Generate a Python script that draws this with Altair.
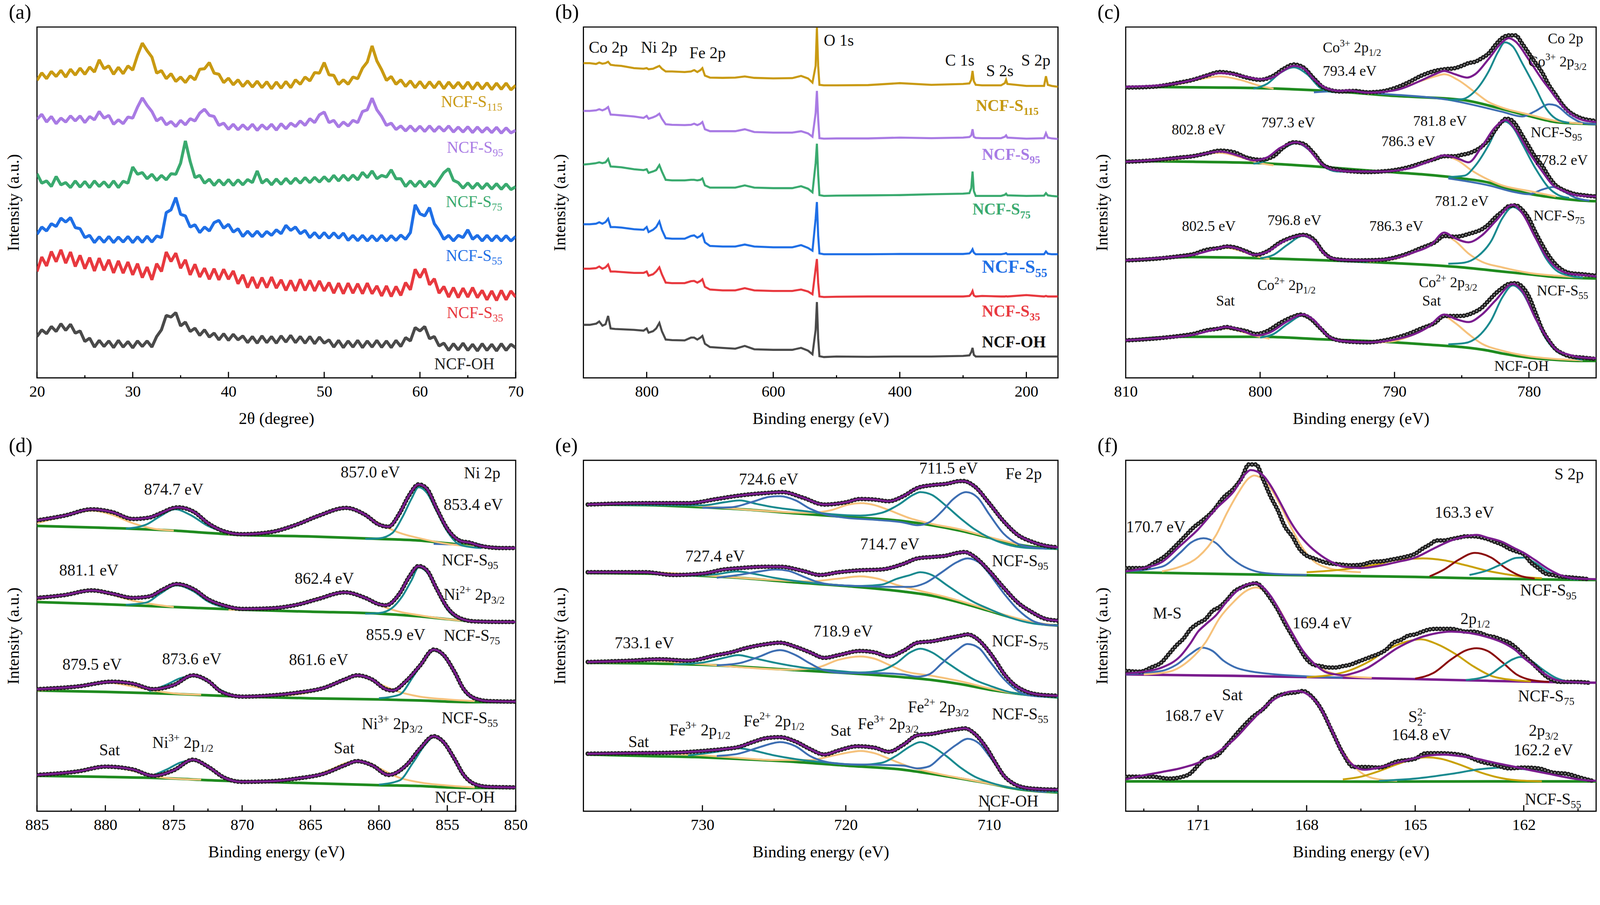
import re
import altair as alt
import pandas as pd

FONT = "Liberation Serif"

# ============================ DATA ============================
# ---- (a) XRD patterns: 2theta (degree) / intensity (a.u.) ----
xrd_2theta = [20,20.5,21,21.5,22,22.5,23,23.5,24,24.5,25,25.5,26,26.5,27,27.5,28,28.5,29,29.5,
              30,30.5,31,31.5,32,32.5,33,33.5,34,34.5,35,35.5,36,36.5,37,37.5,38,38.5,39,39.5,
              40,40.5,41,41.5,42,42.5,43,43.5,44,44.5,45,45.5,46,46.5,47,47.5,48,48.5,49,49.5,
              50,50.5,51,51.5,52,52.5,53,53.5,54,54.5,55,55.5,56,56.5,57,57.5,58,58.5,59,59.5,
              60,60.5,61,61.5,62,62.5,63,63.5,64,64.5,65,65.5,66,66.5,67,67.5,68,68.5,69,69.5,70]
xrd_s115 = [1098,1125,1104,1130,1112,1134,1110,1138,1117,1142,1120,1146,1128,1172,1140,1150,1120,1145,1122,1150,
            1135,1188,1232,1205,1182,1124,1133,1104,1122,1094,1110,1090,1114,1100,1138,1140,1162,1124,1120,1090,
            1106,1082,1100,1076,1096,1074,1095,1072,1093,1068,1092,1070,1094,1072,1100,1084,1110,1096,1126,1124,
            1162,1118,1116,1083,1100,1084,1110,1104,1142,1164,1222,1168,1136,1098,1112,1084,1100,1076,1096,1072,
            1094,1070,1093,1071,1094,1068,1092,1070,1091,1068,1092,1066,1090,1067,1089,1065,1088,1066,1088,1064,1080]
xrd_s95 = [958,976,948,968,942,962,948,970,952,970,946,968,956,986,962,972,940,956,942,966,
           962,1002,1035,1008,986,952,964,938,950,932,954,938,960,952,980,994,972,968,936,944,
           922,940,920,938,921,940,918,938,922,940,919,942,924,944,932,952,936,960,946,974,
           984,946,954,930,948,934,954,946,986,992,1034,992,968,936,944,921,934,916,934,915,
           933,914,934,914,932,915,934,912,930,912,931,910,930,911,928,910,929,908,927,909,918]
xrd_s75 = [762,728,736,716,752,722,730,712,736,714,734,712,736,716,733,713,736,712,735,728,
           786,760,766,744,760,738,756,740,762,760,800,880,806,748,756,728,742,720,740,721,
           741,720,740,722,741,730,772,728,742,722,743,724,745,726,746,728,748,730,749,732,
           751,734,756,736,757,738,757,740,767,748,772,744,756,750,776,744,744,716,736,716,
           736,714,735,716,740,766,780,738,730,710,729,709,728,708,727,707,726,706,725,705,715]
xrd_s55 = [544,570,556,582,572,602,588,604,568,564,532,540,514,535,515,536,514,534,516,536,
           514,535,515,537,516,538,532,622,632,676,616,610,570,578,550,570,556,586,594,566,
           580,552,564,536,555,536,555,535,554,540,560,546,576,558,570,546,558,532,550,530,
           550,530,549,530,548,522,540,521,540,520,539,520,540,520,539,522,541,526,550,650,
           618,610,640,582,558,526,540,520,540,532,560,526,540,520,540,520,539,520,539,520,536]
xrd_s35 = [410,462,430,482,445,488,440,480,428,468,420,460,412,458,414,452,405,448,404,444,
           398,438,388,426,380,438,410,480,446,476,422,452,398,436,390,422,382,420,380,418,
           382,412,366,398,352,390,350,388,352,390,350,380,342,378,340,382,342,378,340,376,
           340,370,332,368,330,368,332,366,330,368,330,358,322,358,320,356,324,370,344,418,
           388,420,362,384,332,356,318,352,316,350,318,352,316,342,308,340,306,342,308,340,318]
xrd_oh = [176,200,186,212,194,222,198,220,188,196,158,170,138,162,140,160,136,162,138,158,
          135,160,140,160,138,176,200,252,246,262,214,228,194,206,180,200,174,188,164,186,
          162,184,164,178,154,176,152,178,154,176,152,178,156,180,154,176,152,176,150,174,
          152,164,138,162,136,160,138,162,136,160,138,162,137,160,136,162,140,172,160,208,
          196,212,168,176,142,152,126,150,128,152,126,148,124,150,126,148,124,150,126,148,135]
a_lab_x = [62.2, 62.8, 62.7, 62.7, 62.8, 61.5]
a_lab_y = [1020, 855, 660, 465, 260, 75]
a_lab_t = ["NCF-S_{115}", "NCF-S_{95}", "NCF-S_{75}", "NCF-S_{55}", "NCF-S_{35}", "NCF-OH"]

# ---- (b) XPS survey: binding energy (eV) / intensity ----
survey_be = [900,890,880,875,870,865,861,857,850,840,820,805,800,797,790,785,780,776,770,760,
             740,730,725,720,715,712,708,700,680,660,645,630,600,570,556,545,538,533,531,529,
             527,520,500,450,400,350,300,290,287,285,283,280,270,240,234,232,230,200,172,169,
             166,160,150]
survey_s115 = [1160,1160,1157,1162,1158,1160,1165,1154,1152,1150,1142,1140,1142,1138,1140,1145,1150,1140,1130,1130,
               1128,1130,1135,1128,1135,1142,1115,1108,1107,1108,1112,1107,1105,1106,1114,1105,1090,1150,1288,1150,
               1082,1080,1080,1081,1088,1082,1085,1087,1100,1132,1095,1082,1080,1080,1088,1100,1085,1078,1078,1113,
               1082,1078,1075]
survey_s95 = [988,988,990,994,990,995,1002,975,974,972,968,963,970,960,965,970,978,960,940,938,
              937,938,942,937,942,948,922,915,915,915,922,912,910,910,915,907,895,980,1060,960,
              890,888,889,889,892,890,892,894,900,922,895,891,890,890,895,900,892,888,890,908,
              892,889,887]
survey_s75 = [795,797,800,803,800,803,815,788,787,785,778,775,778,765,770,775,793,770,740,738,
              738,740,740,738,740,745,720,712,712,712,720,712,710,710,717,708,695,800,870,760,
              685,682,683,684,685,688,690,692,710,770,700,682,682,682,686,690,684,682,683,692,
              684,682,680]
survey_s55 = [580,580,582,587,582,588,600,570,570,568,562,560,570,552,560,570,590,560,530,528,
              528,538,540,532,538,545,515,502,500,500,507,500,497,497,505,495,485,600,660,540,
              475,472,472,472,473,473,473,475,482,490,478,472,472,472,474,476,472,472,472,482,
              474,472,472]
survey_s35 = [420,420,422,428,420,425,435,410,410,408,405,405,410,395,400,410,425,400,370,368,
              368,375,376,370,376,382,355,345,342,342,350,342,340,340,345,338,328,420,455,370,
              320,318,319,320,320,320,320,322,330,340,324,320,322,320,320,321,320,325,320,322,
              320,320,320]
survey_oh = [218,218,222,230,215,220,250,205,203,202,200,197,205,190,195,205,225,195,165,163,
             162,172,172,165,172,178,150,138,135,132,142,130,128,128,135,125,112,200,300,170,
             105,102,104,103,104,104,106,108,120,135,110,104,104,104,104,104,104,104,104,104,
             104,104,104]
b_ann_x = [891.6, 809.2, 732.6, 520.2, 328.3, 263.6, 208.1]
b_ann_y = [1215, 1215, 1195, 1240, 1168, 1130, 1168]
b_ann_t = ["Co 2p", "Ni 2p", "Fe 2p", "O 1s", "C 1s", "S 2s", "S 2p"]
b_lab_x = [279.8, 270.1, 285.2, 270.1, 270.1, 270.1]
b_lab_y = [1005, 830, 632, 425, 265, 155]
b_lab_t = ["NCF-S_{115}", "NCF-S_{95}", "NCF-S_{75}", "NCF-S_{55}", "NCF-S_{35}", "NCF-OH"]

# ---- (c) Co 2p ----
co95_bg_be = [810, 805, 800, 795, 790, 785, 782, 780, 778, 776, 775]
co95_bg_i = [1075, 1073, 1070, 1060, 1042, 1028, 995, 970, 948, 942, 940]
co95_env_be = [810, 807, 805, 804, 803, 802, 801, 800, 799, 798.3, 797.5, 796.8, 796, 795, 794, 793.5, 792, 790, 788, 787,
               786.3, 785.5, 784.6, 784, 783, 782, 781.5, 781, 780, 779, 778.3, 778, 777, 776, 775]
co95_env_i = [1075, 1082, 1100, 1115, 1124, 1120, 1110, 1102, 1110, 1132, 1150, 1142, 1102, 1068, 1060, 1062, 1054, 1062, 1098, 1120,
              1132, 1120, 1108, 1120, 1175, 1235, 1250, 1238, 1172, 1100, 1055, 1035, 982, 955, 948]
co95_dat_be = [810, 808, 806, 805, 804, 803, 802, 801, 800, 799, 798.3, 797.5, 796.8, 796, 795.2, 794, 793, 792, 791, 790,
               789, 788, 787, 786.3, 785.5, 785, 784.5, 784, 783.5, 783, 782.5, 782, 781.5, 781, 780.5, 780, 779.5, 779, 778.5, 778,
               777.5, 777, 776.5, 776, 775.5, 775]
co95_dat_i = [1072, 1075, 1090, 1100, 1115, 1128, 1122, 1108, 1100, 1115, 1138, 1155, 1145, 1105, 1070, 1058, 1060, 1055, 1058, 1070,
              1090, 1115, 1132, 1138, 1142, 1150, 1160, 1165, 1178, 1195, 1225, 1250, 1260, 1260, 1230, 1195, 1160, 1125, 1080, 1045,
              1010, 985, 970, 960, 955, 952]
co95_sat1_be = [809, 808, 806, 804.5, 803, 801.5, 800, 799]
co95_sat1_i = [1075, 1076, 1085, 1102, 1112, 1100, 1078, 1068]
co95_p12_be = [800.5, 799.5, 798.5, 797.5, 796.5, 795.5, 794.5]
co95_p12_i = [1068, 1085, 1125, 1145, 1120, 1070, 1055]
co95_sat2_be = [792, 790, 788.5, 787, 786.3, 785.3, 784, 783, 782, 780, 778, 776]
co95_sat2_i = [1050, 1065, 1088, 1112, 1120, 1100, 1055, 1020, 1000, 975, 952, 942]
co95_p32_be = [786, 785, 784, 783, 782.3, 781.8, 781.2, 780.5, 779.5, 778.7, 778, 777]
co95_p32_i = [1028, 1030, 1060, 1130, 1200, 1235, 1220, 1160, 1070, 995, 960, 945]
co95_m_be = [796, 793.7, 791, 786, 782, 780.5, 779.5, 778.5, 778, 777, 776, 775]
co95_m_i = [1055, 1060, 1050, 1028, 985, 968, 988, 1012, 1008, 970, 945, 940]

co75_bg_be = [810, 805, 800, 795, 791, 788, 785, 783, 782, 780, 778, 776, 775]
co75_bg_i = [808, 805, 800, 785, 770, 760, 745, 730, 715, 690, 675, 665, 663]
co75_env_be = [810, 807, 805, 803, 801.5, 800.5, 799.5, 798.5, 797.3, 796.5, 795.5, 794.5, 793, 791, 789, 787.5, 786.3, 785.2, 784.5, 783.5,
               782.5, 781.7, 781, 780, 779, 778.2, 777.5, 776.5, 775]
co75_env_i = [805, 815, 825, 842, 825, 810, 820, 855, 875, 855, 800, 775, 770, 770, 780, 805, 828, 815, 803, 860,
              930, 955, 920, 840, 770, 720, 702, 685, 680]
co75_dat_be = [810, 808, 806, 805, 804, 803, 802, 801, 800, 799, 798.3, 797.5, 796.8, 796, 795.2, 794, 793, 792, 791, 790,
               789, 788, 787, 786.3, 785.5, 785, 784.5, 784, 783.5, 783, 782.5, 782, 781.7, 781.3, 781, 780.5, 780, 779.5, 779, 778.5,
               778, 777.5, 777, 776.5, 776, 775.5, 775]
co75_dat_i = [805, 810, 820, 825, 835, 845, 840, 820, 812, 825, 855, 875, 870, 835, 790, 775, 770, 768, 770, 775,
              785, 800, 815, 825, 825, 830, 835, 845, 860, 885, 920, 950, 960, 955, 940, 900, 860, 820, 790, 750,
              720, 705, 695, 688, 685, 682, 680]
co75_sat1_be = [808, 806, 804.5, 803, 801.5, 800, 799]
co75_sat1_i = [808, 815, 830, 837, 822, 800, 792]
co75_p12_be = [800.5, 799.5, 798.5, 797.3, 796.3, 795.3, 794.3, 792]
co75_p12_i = [798, 810, 845, 872, 845, 790, 770, 768]
co75_sat2_be = [792, 790, 788.5, 787.3, 786.3, 785.3, 784.3, 783, 782, 780, 778]
co75_sat2_i = [770, 775, 790, 815, 825, 810, 775, 740, 720, 700, 680]
co75_p32_be = [786, 784.8, 784, 783, 782.3, 781.8, 781.2, 780.5, 779.5, 778.5, 777.8, 777]
co75_p32_i = [750, 755, 790, 865, 930, 950, 930, 870, 780, 710, 685, 675]
co75_m_be = [786, 783, 781, 780, 779, 778.2, 777.5, 776.5, 775.5]
co75_m_i = [745, 720, 695, 688, 705, 714, 700, 675, 665]

co55_bg_be = [810, 805, 800, 795, 790, 785, 782, 780, 778, 775]
co55_bg_i = [450, 462, 458, 450, 440, 425, 410, 400, 390, 385]
co55_env_be = [810, 807, 805, 803, 802.5, 801.5, 800.5, 799.5, 798.2, 796.8, 796, 795, 794, 792, 790, 788.5, 787.3, 786.3, 785.5, 784.5,
               783.5, 782.5, 781.2, 780.5, 779.5, 778.8, 778, 777, 775.5, 775]
co55_env_i = [450, 460, 470, 495, 500, 490, 470, 480, 520, 540, 520, 465, 452, 450, 458, 480, 505, 550, 530, 515,
              540, 590, 650, 620, 530, 470, 425, 402, 395, 392]
co55_dat_be = [810, 808, 806, 805, 804, 803, 802.5, 802, 801, 800.3, 799.5, 798.5, 797.5, 796.8, 796, 795.3, 794.5, 793, 791, 790,
               789, 788, 787, 786.3, 785.5, 785, 784.5, 784, 783.5, 783, 782.5, 782, 781.5, 781, 780.5, 780, 779.5, 779, 778.5, 778,
               777.5, 777, 776, 775]
co55_dat_i = [450, 455, 465, 472, 488, 495, 500, 498, 482, 470, 482, 515, 535, 542, 525, 480, 455, 450, 452, 460,
              475, 495, 515, 538, 535, 538, 545, 552, 562, 580, 605, 625, 645, 648, 632, 600, 550, 505, 465, 435,
              415, 405, 400, 395]
co55_sat1_be = [808, 806, 804, 802.5, 801.5, 800.3, 799.3]
co55_sat1_i = [452, 465, 485, 495, 485, 465, 455]
co55_p12_be = [800, 799, 798, 796.8, 796, 795, 794, 792]
co55_p12_i = [458, 470, 505, 538, 520, 470, 448, 445]
co55_sat2_be = [792, 790, 788.5, 787.3, 786.3, 785.5, 784.5, 783.5, 782, 780, 778, 776]
co55_sat2_i = [445, 455, 480, 510, 540, 520, 475, 445, 425, 405, 395, 388]
co55_p32_be = [786, 784.8, 783.8, 782.8, 782, 781.2, 780.5, 779.5, 778.7, 778, 777, 776]
co55_p32_i = [438, 442, 465, 520, 600, 642, 620, 530, 455, 415, 395, 388]

cooh_bg_be = [810, 806, 800, 795, 792, 790, 787, 785, 783, 782, 780, 778, 776, 775]
cooh_bg_i = [162, 175, 175, 165, 160, 155, 145, 138, 125, 115, 100, 92, 88, 88]
cooh_env_be = [810, 807, 805, 803.5, 802.5, 801.5, 800.3, 799.3, 798, 796.8, 796, 795, 794, 792, 790, 788.5, 787.5, 786.3, 785.5, 784.5,
               783.5, 782.5, 781.2, 780.5, 779.5, 778.7, 778, 777, 776, 775]
cooh_env_i = [162, 172, 182, 200, 210, 200, 180, 190, 230, 255, 235, 180, 160, 155, 165, 185, 210, 255, 240, 228,
              255, 305, 365, 340, 240, 175, 130, 110, 100, 98]
cooh_dat_be = [810, 808, 806, 805, 804, 803, 802.5, 802, 801, 800.3, 799.5, 798.5, 797.5, 797, 796.3, 795.5, 794.7, 793.5, 792, 791,
               790, 789, 788, 787, 786.3, 785.5, 785, 784.5, 784, 783.5, 783, 782.5, 782, 781.5, 781, 780.5, 780, 779.5, 779, 778.5,
               778, 777.5, 777, 776, 775]
cooh_dat_i = [162, 168, 178, 185, 198, 205, 210, 205, 195, 185, 195, 225, 248, 255, 242, 205, 170, 158, 155, 160,
              170, 185, 205, 225, 250, 250, 250, 255, 265, 280, 305, 330, 350, 365, 368, 355, 320, 260, 200, 160,
              130, 115, 105, 100, 95]
cooh_sat1_be = [808, 806, 804, 802.5, 801.5, 800.3, 799.3]
cooh_sat1_i = [168, 178, 195, 205, 195, 178, 168]
cooh_p12_be = [800, 799, 798, 796.8, 796, 795, 794, 792]
cooh_p12_i = [172, 185, 220, 252, 232, 178, 158, 152]
cooh_sat2_be = [792, 790, 788.5, 787.3, 786.3, 785.5, 784.5, 783.5, 782, 780, 778, 776]
cooh_sat2_i = [152, 160, 185, 215, 248, 225, 185, 150, 125, 105, 95, 90]
cooh_p32_be = [786, 784.8, 783.8, 782.8, 782, 781.2, 780.5, 779.5, 778.7, 778, 777, 776]
cooh_p32_i = [148, 152, 175, 235, 315, 360, 335, 240, 165, 125, 102, 92]

c_lab_x = [778.6, 795.34, 795.34, 780.05, 779.87, 806.58, 799.91, 788.62, 790.98, 779.62,
           787.0, 779.67, 805.82, 799.45, 791.87, 800.21, 788.19, 803.28, 787.94, 779.41, 782.58]
c_lab_y = [1248, 1215, 1130, 1165, 910, 920, 945, 950, 878, 810,
           662, 610, 572, 594, 572, 360, 370, 303, 303, 340, 68]
c_lab_t = ["Co 2p", "Co^{3+} 2p_{1/2}", "793.4 eV", "Co^{3+} 2p_{3/2}", "NCF-S_{95}", "802.8 eV", "797.3 eV", "781.8 eV", "786.3 eV", "778.2 eV",
           "781.2 eV", "NCF-S_{75}", "802.5 eV", "796.8 eV", "786.3 eV", "Co^{2+} 2p_{1/2}", "Co^{2+} 2p_{3/2}", "Sat", "Sat", "NCF-S_{55}", "NCF-OH"]

# ---- (d) Ni 2p ----
ni95_bg_be = [885, 880, 875, 872, 870, 865, 860, 857, 855, 853, 850]
ni95_bg_i = [1055, 1048, 1038, 1028, 1022, 1017, 1008, 1002, 992, 982, 975]
ni95_env_be = [885, 883, 881, 879.5, 878, 876.8, 876, 875, 874.7, 873.5, 872.5, 871.3, 870, 868, 866, 864.5, 862.4, 861, 860, 859.3,
               858.5, 857.8, 857.1, 856.5, 855.8, 855, 854, 853.4, 852.5, 851, 850]
ni95_env_i = [1075, 1092, 1115, 1105, 1080, 1085, 1100, 1120, 1122, 1105, 1065, 1035, 1025, 1032, 1060, 1090, 1120, 1095, 1060, 1052,
              1100, 1165, 1205, 1190, 1120, 1045, 1000, 995, 982, 975, 975]
ni95_sat1_be = [885, 883, 881, 879.5, 878, 876.5, 875]
ni95_sat1_i = [1065, 1090, 1110, 1095, 1065, 1045, 1038]
ni95_p12_be = [878.5, 877, 876, 874.9, 873.8, 872.5, 871, 869.5]
ni95_p12_i = [1045, 1060, 1090, 1115, 1095, 1055, 1030, 1022]
ni95_sat2_be = [871, 868, 866, 864, 862.4, 861, 860, 858.5, 857, 855, 853]
ni95_sat2_i = [1025, 1035, 1060, 1100, 1120, 1095, 1065, 1030, 1010, 990, 980]
ni95_p32_be = [861, 860, 859, 858.3, 857.6, 857.1, 856.5, 855.8, 855, 854.2, 853.5, 852.5]
ni95_p32_i = [1008, 1010, 1030, 1085, 1155, 1195, 1175, 1110, 1035, 990, 980, 975]
ni95_m_be = [856, 854.5, 853.6, 852.8, 852, 851]
ni95_m_i = [990, 988, 998, 990, 980, 975]

ni75_bg_be = [885, 880, 875, 870, 865, 860, 857, 855, 853, 850]
ni75_bg_i = [780, 772, 762, 752, 745, 738, 728, 718, 710, 708]
ni75_env_be = [885, 883, 881, 879.5, 878, 876.8, 875.8, 874.8, 873.5, 872.5, 871.3, 870, 868, 866, 864.5, 862.5, 861, 860, 859.5, 858.5,
               857.8, 857.1, 856.5, 855.8, 855, 854, 853, 851, 850]
ni75_env_i = [795, 805, 822, 810, 795, 800, 825, 845, 825, 790, 767, 755, 757, 770, 790, 815, 795, 772, 768, 810,
              870, 910, 895, 830, 760, 720, 710, 708, 708]
ni75_sat1_be = [885, 883, 881.1, 879.6, 878, 876.5, 875]
ni75_sat1_i = [788, 805, 820, 807, 785, 772, 762]
ni75_p12_be = [878.5, 877, 876, 874.8, 873.6, 872.5, 871, 869.5]
ni75_p12_i = [770, 778, 810, 840, 820, 782, 758, 752]
ni75_sat2_be = [871, 868, 866, 864, 862.4, 861, 860, 858.5, 857, 855, 853]
ni75_sat2_i = [752, 755, 772, 800, 815, 795, 770, 745, 732, 718, 710]
ni75_p32_be = [861, 860, 859, 858.3, 857.6, 857.1, 856.5, 855.8, 855, 854.2, 853.5, 852.5]
ni75_p32_i = [738, 740, 760, 800, 860, 905, 888, 825, 752, 720, 710, 707]

ni55_bg_be = [885, 880, 875, 870, 865, 860, 857, 855, 853, 850]
ni55_bg_i = [460, 455, 448, 438, 432, 428, 424, 420, 418, 418]
ni55_env_be = [885, 882, 879.5, 878, 876.5, 875, 873.6, 872.5, 871.5, 870, 868, 866, 864, 862.5, 861.6, 860.5, 859.5, 859, 858, 857,
               856, 855.3, 854.5, 853.8, 853, 852, 850]
ni55_env_i = [465, 475, 492, 485, 465, 480, 515, 495, 455, 438, 442, 452, 470, 500, 515, 500, 465, 460, 495, 550,
              608, 590, 530, 465, 432, 422, 420]
ni55_sat1_be = [885, 882, 879.8, 878, 876.5, 875, 873]
ni55_sat1_i = [460, 472, 488, 475, 460, 450, 445]
ni55_p12_be = [876.8, 875.5, 874.5, 873.6, 872.6, 871.5, 870.5, 869]
ni55_p12_i = [458, 482, 505, 512, 495, 460, 442, 438]
ni55_sat2_be = [870, 867, 865, 863.5, 862.3, 861.6, 860.8, 860, 858.5, 857, 855, 853]
ni55_sat2_i = [438, 442, 455, 482, 505, 512, 505, 485, 455, 438, 428, 422]
ni55_p32_be = [860, 858.5, 857.5, 856.6, 856, 855.3, 854.5, 853.8, 853, 852, 851]
ni55_p32_i = [432, 445, 510, 575, 605, 585, 525, 460, 428, 420, 418]

nioh_bg_be = [885, 880, 875, 872, 870, 865, 860, 857, 855, 853, 850]
nioh_bg_i = [152, 148, 142, 135, 132, 125, 118, 115, 110, 108, 108]
nioh_env_be = [885, 882, 880, 878, 876.5, 875, 873.6, 872.5, 871.3, 870, 868, 866, 864, 862.5, 861.6, 860.5, 859.3, 858, 857, 856,
               855.3, 854.5, 853.8, 853, 852, 850]
nioh_env_i = [155, 168, 185, 175, 152, 172, 210, 185, 145, 130, 132, 142, 160, 190, 205, 190, 155, 190, 250, 295,
              275, 215, 155, 122, 112, 110]
nioh_sat1_be = [885, 882, 879.8, 878, 876.5, 875, 873]
nioh_sat1_i = [152, 165, 185, 170, 150, 142, 138]
nioh_p12_be = [876.8, 875.5, 874.5, 873.6, 872.6, 871.5, 870.5, 869]
nioh_p12_i = [148, 175, 200, 208, 190, 152, 135, 130]
nioh_sat2_be = [870, 867, 865, 863.5, 862.3, 861.6, 860.8, 860, 858.5, 857, 855, 853]
nioh_sat2_i = [130, 135, 148, 175, 200, 205, 200, 180, 145, 128, 117, 110]
nioh_p32_be = [860, 858.5, 857.5, 856.6, 856, 855.3, 854.5, 853.8, 853, 852, 851]
nioh_p32_i = [120, 135, 200, 265, 292, 272, 210, 150, 120, 110, 108]

d_lab_x = [853.78, 862.8, 877.17, 855.27, 855.4, 883.38, 866.16, 855.27, 860.94, 855.27,
           883.14, 875.85, 866.58, 855.42, 861.26, 880.45, 876.57, 863.3, 855.92]
d_lab_y = [1245, 1248, 1185, 1130, 930, 893, 863, 805, 660, 658,
           553, 573, 570, 360, 338, 243, 270, 250, 73]
d_lab_t = ["Ni 2p", "857.0 eV", "874.7 eV", "853.4 eV", "NCF-S_{95}", "881.1 eV", "862.4 eV", "Ni^{2+} 2p_{3/2}", "855.9 eV", "NCF-S_{75}",
           "879.5 eV", "873.6 eV", "861.6 eV", "NCF-S_{55}", "Ni^{3+} 2p_{3/2}", "Sat", "Ni^{3+} 2p_{1/2}", "Sat", "NCF-OH"]

# ---- (e) Fe 2p ----
fe_bg_be = [738, 734, 730, 727, 724, 720, 716, 714, 712, 710, 708, 706, 705.2]
fe95_bg_i = [1130, 1128, 1120, 1112, 1100, 1085, 1070, 1055, 1035, 1010, 985, 972, 970]
fe95_env_be = [738, 734, 731, 729, 727.5, 725.5, 724.4, 723, 721.5, 720, 719, 718, 717, 716, 715, 714, 713, 712, 711.8, 711,
               710, 709, 708, 707, 706, 705.2]
fe95_env_i = [1130, 1135, 1135, 1150, 1162, 1172, 1175, 1155, 1130, 1138, 1150, 1148, 1142, 1160, 1190, 1200, 1205, 1215, 1215, 1195,
              1135, 1070, 1020, 995, 980, 975]
fe95_sat_be = [737, 734.5, 733, 731, 729, 726, 722.5, 721, 719.8, 718.9, 718, 717, 715.5, 714, 712, 710, 708]
fe95_sat_i = [1129, 1133, 1134, 1128, 1120, 1108, 1100, 1110, 1130, 1135, 1128, 1110, 1080, 1060, 1040, 1012, 986]
fe95_fe3_be = [738, 733, 730, 728.5, 727.4, 726.2, 725, 723, 721, 719, 717.5, 716.3, 715.3, 714.8, 714, 713, 712, 711, 710, 708.5,
               707, 705.2]
fe95_fe3_i = [1130, 1128, 1127, 1138, 1145, 1132, 1120, 1107, 1095, 1090, 1100, 1130, 1165, 1175, 1165, 1125, 1080, 1040, 1010, 982,
              972, 970]
fe95_fe2_be = [730, 728, 726.5, 725.3, 724.6, 723.5, 722.5, 721.5, 720, 718, 716, 715, 714.2, 713.3, 712.5, 711.6, 710.8, 710, 709, 708,
               707, 706]
fe95_fe2_i = [1118, 1120, 1140, 1158, 1160, 1145, 1115, 1095, 1082, 1075, 1065, 1055, 1065, 1105, 1150, 1175, 1155, 1095, 1025, 988,
              975, 970]

fe75_bg_i = [882, 880, 872, 863, 850, 835, 815, 800, 775, 745, 715, 695, 692]
fe75_env_be = [738, 734, 732, 730, 728.5, 727.4, 725.5, 724.6, 723, 721.8, 720.5, 719, 717.5, 716, 715, 714, 713, 712.2, 711.7, 711,
               710, 709, 708, 707, 706, 705.2]
fe75_env_i = [885, 885, 875, 880, 895, 900, 905, 905, 890, 875, 885, 892, 895, 915, 935, 940, 945, 955, 958, 940,
              890, 830, 775, 740, 715, 710]
fe75_sat_be = [738, 734, 731, 728, 722.5, 720.5, 719, 717.8, 716.5, 715, 713, 711, 709, 707, 705.5]
fe75_sat_i = [883, 885, 878, 867, 852, 862, 870, 862, 840, 820, 795, 765, 732, 705, 694]
fe75_fe3_be = [731, 729, 727.6, 726.5, 725, 723, 721, 719, 717.5, 716.5, 715.5, 714.8, 714, 713, 712, 711, 710, 708.5, 707, 705.2]
fe75_fe3_i = [872, 878, 888, 880, 865, 850, 840, 835, 840, 860, 875, 885, 875, 840, 805, 775, 752, 720, 700, 692]
fe75_fe2_be = [729, 727.5, 726, 724.9, 724, 723, 722, 721, 719, 717, 715.5, 714.5, 713.3, 712.3, 711.5, 710.7, 710, 709, 708, 707,
               706, 705.2]
fe75_fe2_i = [865, 875, 888, 895, 890, 870, 850, 840, 835, 832, 832, 845, 885, 920, 935, 920, 880, 810, 750, 710,
              695, 692]

fe55_bg_i = [557, 555, 550, 542, 532, 520, 505, 495, 480, 460, 445, 435, 432]
fe55_env_be = [738, 735, 733, 731, 729, 728, 727, 725.5, 724.6, 723.5, 722.5, 721.5, 720.5, 719, 718, 717, 716, 715, 714, 713,
               712, 711.5, 711, 710.2, 709.5, 709, 708.3, 707.5, 706.5, 705.2]
fe55_env_i = [560, 565, 570, 565, 585, 595, 610, 625, 630, 615, 595, 575, 585, 600, 595, 580, 600, 630, 635, 645,
              655, 660, 650, 610, 560, 520, 480, 455, 442, 438]
fe55_sat_be = [738, 735.5, 733.5, 731.5, 729, 727, 724, 722, 720.5, 719, 718, 717, 716, 714, 712, 710, 708, 706]
fe55_sat_i = [557, 560, 565, 558, 548, 540, 532, 540, 568, 580, 572, 550, 528, 510, 490, 465, 445, 435]
fe55_fe3_be = [732, 730, 728.5, 727.5, 726.5, 725, 723, 721, 719, 717.5, 716.5, 715.5, 714.8, 714, 713, 712, 711, 710, 708.5, 707,
               705.2]
fe55_fe3_i = [552, 558, 575, 585, 575, 558, 540, 530, 522, 530, 555, 595, 608, 595, 560, 525, 495, 475, 450, 438,
              432]
fe55_fe2_be = [729, 727.5, 726, 725, 724.6, 723.5, 722.5, 721.5, 720, 718, 716, 715, 714.2, 713.3, 712.3, 711.5, 710.7, 710, 709, 708,
               707, 706]
fe55_fe2_i = [548, 555, 580, 600, 603, 585, 555, 530, 520, 520, 515, 507, 515, 555, 600, 625, 610, 565, 500, 455,
              438, 434]

feoh_bg_i = [225, 220, 215, 208, 200, 185, 170, 155, 138, 120, 100, 90, 88]
feoh_env_be = [738, 735, 732, 730, 728.5, 727.5, 726.5, 725.5, 724.6, 723.5, 722.5, 721.5, 720.5, 719.2, 718, 717, 716, 715, 714, 713,
               712, 711.7, 711, 710.2, 709.5, 709, 708.3, 707.5, 706.5, 705.2]
feoh_env_i = [228, 230, 232, 238, 245, 252, 270, 285, 288, 272, 245, 225, 240, 255, 250, 235, 260, 295, 300, 310,
              318, 320, 300, 250, 190, 150, 120, 105, 100, 98]
feoh_sat_be = [738, 734, 731, 728, 725, 722.5, 721, 719.5, 719, 718, 717, 715.5, 713.5, 711.5, 709.5, 707.5, 705.5]
feoh_sat_i = [228, 230, 225, 215, 205, 205, 220, 235, 238, 230, 210, 180, 155, 135, 115, 98, 90]
feoh_fe3_be = [731, 729, 727.5, 726.5, 725, 723, 721, 719, 717.5, 716.5, 715.5, 714.8, 714, 713, 712, 711, 710, 708.5, 707, 705.2]
feoh_fe3_i = [222, 235, 248, 240, 222, 205, 195, 188, 195, 220, 255, 270, 255, 220, 178, 145, 125, 105, 95, 90]
feoh_fe2_be = [729, 727.5, 726, 725, 724.6, 723.5, 722.5, 721.5, 720, 718, 716, 715, 714.2, 713.3, 712.3, 711.5, 710.7, 710, 709, 708,
               707, 706]
feoh_fe2_i = [220, 228, 252, 267, 270, 255, 220, 200, 190, 188, 185, 175, 182, 220, 260, 282, 265, 220, 150, 110,
              95, 90]

e_lab_x = [708.86, 714.88, 727.45, 709.81, 719.0, 731.19, 709.81, 722.26, 736.12, 709.81,
           715.67, 727.14, 732.31, 735.17, 721.07, 719.17, 710.76]
e_lab_y = [1240, 1260, 1220, 925, 985, 942, 635, 670, 628, 370,
           395, 345, 312, 270, 310, 335, 55]
e_lab_t = ["Fe 2p", "711.5 eV", "724.6 eV", "NCF-S_{95}", "714.7 eV", "727.4 eV", "NCF-S_{75}", "718.9 eV", "733.1 eV", "NCF-S_{55}",
           "Fe^{2+} 2p_{3/2}", "Fe^{2+} 2p_{1/2}", "Fe^{3+} 2p_{1/2}", "Sat", "Sat", "Fe^{3+} 2p_{3/2}", "NCF-OH"]

# ---- (f) S 2p ----
s95_bg_be = [173, 170, 167, 165, 163, 161, 160]
s95_bg_i = [885, 878, 872, 868, 862, 858, 857]
s95_env_be = [173, 172.5, 172, 171.5, 171, 170.5, 170, 169.7, 169.55, 169.2, 169, 168.7, 168.5, 168.2, 168, 167.6, 167.2, 167, 166.5, 166,
              165.5, 165, 164.5, 164, 163.6, 163.3, 163, 162.6, 162.3, 162, 161.7, 161.3, 161, 160.5, 160]
s95_env_i = [888, 900, 922, 980, 1040, 1115, 1180, 1240, 1255, 1235, 1200, 1130, 1080, 1020, 990, 945, 915, 905, 900, 908,
             922, 938, 970, 1000, 1015, 1020, 1010, 995, 975, 955, 930, 895, 875, 862, 860]
s95_dat_be = [173, 172.5, 172.2, 171.9, 171.7, 171.4, 171.1, 170.9, 170.6, 170.3, 170, 169.8, 169.6, 169.4, 169.2, 169, 168.8, 168.6, 168.4, 168.2,
              168, 167.8, 167.6, 167.4, 167.2, 167, 166.8, 166.5, 166.2, 165.9, 165.6, 165.3, 165, 164.8, 164.6, 164.4, 164.2, 164, 163.8, 163.6,
              163.4, 163.2, 163, 162.8, 162.6, 162.4, 162.2, 162, 161.8, 161.6, 161.4, 161.2, 161, 160.6, 160.2]
s95_dat_i = [900, 900, 920, 945, 970, 1010, 1050, 1070, 1105, 1155, 1190, 1225, 1275, 1275, 1220, 1160, 1110, 1050, 1015, 970,
             945, 935, 925, 918, 915, 912, 910, 912, 922, 925, 932, 940, 952, 970, 985, 1000, 1000, 1005, 1010, 1015,
             1015, 1012, 1005, 995, 985, 970, 960, 950, 920, 900, 880, 875, 870, 865, 860]
s95_ms_be = [173, 172, 171.5, 171.2, 170.85, 170.5, 170.2, 169.8, 169.4, 169, 168]
s95_ms_i = [888, 905, 955, 992, 1008, 990, 950, 910, 888, 880, 875]
s95_sat_be = [172, 171.5, 171, 170.5, 170.2, 169.9, 169.6, 169.45, 169.2, 169, 168.7, 168.4, 168.1, 167.8, 167.4, 167, 166.5]
s95_sat_i = [888, 905, 940, 1020, 1100, 1170, 1225, 1235, 1220, 1190, 1120, 1040, 970, 925, 900, 890, 885]
s95_s22_be = [168, 167, 166, 165.5, 164.8, 164.2, 163.6, 163, 162.5, 162, 161.5]
s95_s22_i = [885, 895, 915, 930, 935, 928, 910, 890, 878, 868, 863]
s95_p12_be = [164.6, 164.2, 163.8, 163.35, 162.9, 162.5, 162.1, 161.7]
s95_p12_i = [870, 895, 930, 955, 938, 900, 872, 862]
s95_p32_be = [163.5, 163, 162.6, 162.2, 162, 161.7, 161.3, 160.9, 160.5]
s95_p32_i = [875, 892, 915, 937, 938, 920, 885, 865, 858]

s75_bg_be = [173, 170, 167, 165, 163, 161, 160]
s75_bg_i = [515, 510, 503, 498, 492, 487, 485]
s75_env_be = [173, 172.5, 172, 171.5, 171.2, 171, 170.8, 170.5, 170.2, 169.9, 169.6, 169.45, 169.2, 169, 168.7, 168.4, 168.1, 167.8, 167.5, 167.2,
              167, 166.7, 166.3, 166, 165.5, 165, 164.5, 164, 163.5, 163, 162.5, 162.2, 162, 161.7, 161.4, 161.1, 160.7, 160]
s75_env_i = [518, 525, 540, 580, 630, 670, 695, 730, 780, 820, 842, 845, 830, 800, 735, 665, 600, 555, 525, 515,
             512, 520, 540, 565, 610, 642, 662, 670, 665, 650, 625, 600, 575, 545, 515, 495, 488, 485]
s75_dat_be = [173, 172.6, 172.3, 172, 171.8, 171.6, 171.4, 171.2, 171, 170.8, 170.6, 170.4, 170.2, 170, 169.8, 169.6, 169.4, 169.2, 169, 168.8,
              168.6, 168.4, 168.2, 168, 167.8, 167.6, 167.4, 167.2, 167, 166.8, 166.6, 166.4, 166.2, 166, 165.8, 165.6, 165.4, 165.2, 165, 164.8,
              164.6, 164.4, 164.2, 164, 163.8, 163.6, 163.4, 163.2, 163, 162.8, 162.6, 162.4, 162.2, 162, 161.8, 161.6, 161.4, 161.2, 161, 160.6,
              160.2]
s75_dat_i = [528, 525, 540, 560, 590, 620, 645, 680, 700, 715, 745, 760, 785, 815, 830, 840, 845, 825, 790, 750,
             700, 655, 610, 570, 550, 545, 540, 540, 545, 550, 560, 570, 580, 590, 605, 630, 640, 655, 660, 670,
             678, 680, 680, 680, 675, 670, 670, 665, 655, 650, 640, 630, 610, 585, 560, 535, 510, 495, 488, 488,
             485]
s75_ms_be = [173, 172, 171.6, 171.2, 170.9, 170.6, 170.3, 170, 169.5, 169, 168, 167]
s75_ms_i = [516, 528, 550, 590, 612, 600, 565, 542, 525, 517, 508, 503]
s75_sat_be = [172.5, 171.8, 171.3, 170.8, 170.4, 170, 169.7, 169.4, 169.1, 168.8, 168.5, 168.1, 167.7, 167.3, 166.8, 166.2]
s75_sat_i = [515, 525, 560, 630, 720, 780, 815, 830, 810, 760, 690, 600, 545, 520, 508, 503]
s75_s22_be = [168, 167, 166.3, 165.7, 165.2, 164.85, 164.4, 163.9, 163.4, 162.9, 162.3, 161.8]
s75_s22_i = [505, 522, 560, 610, 635, 642, 625, 590, 545, 510, 495, 490]
s75_p12_be = [165, 164.5, 164, 163.6, 163.3, 163, 162.6, 162.2, 161.8, 161.3]
s75_p12_i = [500, 520, 570, 602, 610, 600, 560, 515, 495, 488]
s75_p32_be = [163.6, 163, 162.6, 162.3, 162.1, 161.8, 161.5, 161.1, 160.7, 160.3]
s75_p32_i = [495, 510, 545, 570, 578, 565, 535, 502, 488, 485]

s55_bg_be = [173, 170, 166, 162, 160]
s55_bg_i = [128, 128, 127, 128, 128]
s55_env_be = [173, 172.5, 172, 171.5, 171, 170.5, 170, 169.5, 169, 168.7, 168.5, 168.25, 168, 167.7, 167.4, 167, 166.7, 166.4, 166, 165.5,
              165, 164.6, 164.2, 163.8, 163.3, 162.8, 162.3, 161.8, 161.3, 160.8, 160.3, 160]
s55_env_i = [135, 150, 162, 175, 195, 230, 280, 350, 415, 440, 452, 455, 445, 410, 340, 230, 185, 170, 178, 195,
             212, 222, 225, 220, 210, 195, 182, 168, 155, 142, 132, 130]
s55_dat_be = [173, 172.8, 172.3, 171.8, 171.3, 170.8, 170.5, 170.2, 169.8, 169.5, 169.2, 168.9, 168.6, 168.3, 168.1, 167.9, 167.6, 167.3, 167, 166.7,
              166.4, 166, 165.5, 165, 164.7, 164.4, 164, 163.6, 163.2, 162.8, 162.4, 162, 161.6, 161.2, 160.8, 160.4, 160.1]
s55_dat_i = [145, 145, 145, 138, 150, 210, 220, 260, 320, 360, 390, 430, 445, 450, 455, 440, 390, 310, 230, 180,
             180, 178, 200, 210, 230, 230, 228, 220, 200, 188, 175, 178, 175, 160, 155, 140, 130]
s55_sat_be = [173, 172.5, 172, 171.5, 171, 170.5, 170, 169.5, 169, 168.7, 168.5, 168.25, 168, 167.7, 167.4, 167.1, 166.8, 166.5, 166, 165.5]
s55_sat_i = [135, 150, 162, 175, 195, 230, 280, 350, 415, 440, 452, 455, 445, 410, 340, 260, 200, 160, 135, 130]
s55_s22_be = [167, 166.5, 166, 165.5, 165, 164.7, 164.3, 163.8, 163.3, 162.8, 162.2, 161.5]
s55_s22_i = [135, 145, 165, 190, 210, 215, 210, 190, 165, 145, 132, 128]
s55_p32_be = [166, 165, 164, 163.2, 162.6, 162, 161.4, 160.8, 160.2]
s55_p32_i = [130, 138, 155, 172, 178, 172, 160, 142, 130]

f_lab_x = [161.15, 164.46, 172.99, 162.1, 172.25, 168.39, 163.75, 170.34, 162.16, 171.92,
           165.19, 165.65, 161.86, 162.28, 161.97]
f_lab_y = [1238, 1100, 1048, 818, 735, 700, 715, 440, 435, 365,
           360, 295, 310, 240, 62]
f_lab_t = ["S 2p", "163.3 eV", "170.7 eV", "NCF-S_{95}", "M-S", "169.4 eV", "2p_{1/2}", "Sat", "NCF-S_{75}", "168.7 eV",
           "S_{2}^{2-}", "164.8 eV", "2p_{3/2}", "162.2 eV", "NCF-S_{55}"]

# ============================ STYLE ============================
PANEL_H = 932
TXT = "#111111"
SAMPLE_COLORS = ["#C99A12", "#A97BE4", "#3AAA6F", "#1F6FE6", "#E8393F", "#4A4A4A"]
B_LABEL_COLORS = ["#C4980E", "#A77BE5", "#3AAA6F", "#1F6FE6", "#E8393F", "#111111"]
B_LABEL_SIZES = [43, 43, 43, 48, 43, 43]

MONO = "monotone"
STY = {
    "xrd": dict(strokeWidth=8, interpolate="linear", strokeJoin="bevel"),
    "survey": dict(strokeWidth=5.5, interpolate="linear"),
    "bead_out": dict(color="#1e1e1e", strokeWidth=12, strokeDash=[0.1, 9], strokeCap="round", interpolate=MONO),
    "bead_in": dict(color="#9a9a9a", strokeWidth=4, strokeDash=[0.1, 9], strokeCap="round", interpolate=MONO),
    "bg": dict(color="#1f8b1f", strokeWidth=7, interpolate=MONO),
    "orange": dict(color="#F6C27C", strokeWidth=5, interpolate=MONO),
    "teal": dict(color="#1A8A8F", strokeWidth=5, interpolate=MONO),
    "blue": dict(color="#3D6EB2", strokeWidth=5, interpolate=MONO),
    "gold": dict(color="#C9A106", strokeWidth=5, interpolate=MONO),
    "darkred": dict(color="#8B0D0D", strokeWidth=5, interpolate=MONO),
    "env": dict(color="#7A1C8E", strokeWidth=5.5, interpolate=MONO),
    "envbg": dict(color="#7A1C8E", strokeWidth=6.5, interpolate=MONO),
}

NORMAL_W = {" ": .25, "A": .722, "C": .667, "F": .556, "H": .722, "M": .889, "N": .722, "O": .722, "S": .556,
            "V": .722, "a": .444, "e": .444, "i": .278, "n": .5, "o": .5, "p": .5, "s": .389, "t": .278,
            ".": .25, "-": .333, "+": .564, "/": .278}
BOLD_W = {" ": .25, "C": .722, "F": .611, "H": .778, "N": .722, "O": .778, "S": .556, "-": .333}


def text_w(s, fs, bold):
    tb = BOLD_W if bold else NORMAL_W
    return sum(tb.get(ch, 0.5) for ch in s) * fs


def parse_markup(m):
    out = []
    for mm in re.finditer(r"\^\{([^}]*)\}|_\{([^}]*)\}|([^_^]+)", m):
        if mm.group(1) is not None:
            out.append((mm.group(1), "sup"))
        elif mm.group(2) is not None:
            out.append((mm.group(2), "sub"))
        else:
            out.append((mm.group(3), "n"))
    return out


def rich_rows(xs, ys, texts, colors, sizes, bold=False):
    rows = []
    for x, y, markup, color, size in zip(xs, ys, texts, colors, sizes):
        cur, last_start, prev = 0.0, 0.0, None
        for txt, kind in parse_markup(markup):
            if kind == "n":
                fs, dy = size, 0.0
            elif kind == "sub":
                fs, dy = round(size * 0.66), size * 0.34
            else:
                fs, dy = round(size * 0.66), -size * 0.30
            start = last_start if (kind == "sup" and prev == "sub") else cur
            lead = len(txt) - len(txt.lstrip(" "))
            rows.append({"x": x, "y": y, "t": txt.strip(" "),
                         "dx": round(start + text_w(" " * lead, fs, bold), 1), "dy": round(dy, 1), "fs": fs, "c": color})
            cur = max(cur, start + text_w(txt, fs, bold))
            last_start, prev = start, kind
    return rows


def build_panel(letter, width, xdom, ydom, xlabels, major, minor, xtitle, line_layers, text_groups):
    rev = xdom[0] > xdom[1]
    xsc = alt.Scale(domain=[min(xdom), max(xdom)], reverse=rev, nice=False, zero=False)
    ysc = alt.Scale(domain=ydom, nice=False, zero=False)
    xax = alt.Axis(values=xlabels, title=xtitle, labelFlush=False, labelOverlap=False, format="d")
    yax = alt.Axis(title="Intensity (a.u.)", labels=False)
    order = alt.Order("x:Q", sort="descending" if rev else "ascending")
    layers = []
    for style, curves in line_layers:
        rows = []
        for k, (xs, ys) in enumerate(curves):
            if len(xs) != len(ys):
                raise ValueError(f"length mismatch in panel {letter}: {len(xs)} vs {len(ys)}")
            for a, b in zip(xs, ys):
                rows.append({"x": a, "y": b, "k": k})
        layers.append(
            alt.Chart(pd.DataFrame(rows)).mark_line(clip=True, **style).encode(
                x=alt.X("x:Q", scale=xsc, axis=xax),
                y=alt.Y("y:Q", scale=ysc, axis=yax),
                detail="k:N",
                order=order,
            )
        )
    for vals, ln in ((major, 16), (minor, 7)):
        layers.append(
            alt.Chart(pd.DataFrame({"x": vals})).mark_rule(color="black", strokeWidth=3).encode(
                x=alt.X("x:Q", scale=xsc, axis=xax),
                y=alt.value(PANEL_H),
                y2=alt.value(PANEL_H - ln),
            )
        )
    for rows, bold in text_groups:
        groups = {}
        for r in rows:
            groups.setdefault((r["dx"], r["dy"], r["fs"]), []).append(r)
        for (dx, dy, fs), rs in groups.items():
            layers.append(
                alt.Chart(pd.DataFrame(rs)).mark_text(
                    align="left", baseline="middle", font=FONT, fontWeight="bold" if bold else "normal",
                    dx=dx, dy=dy, fontSize=fs,
                ).encode(
                    x=alt.X("x:Q", scale=xsc, axis=xax),
                    y=alt.Y("y:Q", scale=ysc, axis=yax),
                    text="t:N",
                    color=alt.Color("c:N", scale=None, legend=None),
                )
            )
    # panel letter, placed above the top-left corner of the frame
    layers.append(
        alt.Chart(pd.DataFrame({"t": [letter]})).mark_text(
            align="left", baseline="alphabetic", font=FONT, fontSize=54, color="black"
        ).encode(x=alt.value(-75), y=alt.value(-22), text="t:N")
    )
    return alt.layer(*layers).properties(width=width, height=PANEL_H)


def xrd_line(ys, color):
    return (dict(STY["xrd"], color=color), [(xrd_2theta, ys)])


def survey_line(ys, color):
    return (dict(STY["survey"], color=color), [(survey_be, ys)])


def bead_layers(curves):
    return [(STY["bead_out"], curves), (STY["bead_in"], curves)]


# ---- (a)
pa = build_panel(
    "(a)", 1272, [20, 70], [27, 1290], [20, 30, 40, 50, 60, 70], [20, 30, 40, 50, 60, 70], [25, 35, 45, 55, 65],
    "2θ (degree)",
    [xrd_line(xrd_s115, SAMPLE_COLORS[0]), xrd_line(xrd_s95, SAMPLE_COLORS[1]), xrd_line(xrd_s75, SAMPLE_COLORS[2]),
     xrd_line(xrd_s55, SAMPLE_COLORS[3]), xrd_line(xrd_s35, SAMPLE_COLORS[4]), xrd_line(xrd_oh, SAMPLE_COLORS[5])],
    [(rich_rows(a_lab_x, a_lab_y, a_lab_t, SAMPLE_COLORS[:5] + ["#222222"], [43] * 6), False)],
)

# ---- (b)
pb = build_panel(
    "(b)", 1261, [900, 150], [27, 1290], [800, 600, 400, 200], [800, 600, 400, 200], [700, 500, 300],
    "Binding energy (eV)",
    [survey_line(survey_s115, SAMPLE_COLORS[0]), survey_line(survey_s95, SAMPLE_COLORS[1]),
     survey_line(survey_s75, SAMPLE_COLORS[2]), survey_line(survey_s55, SAMPLE_COLORS[3]),
     survey_line(survey_s35, SAMPLE_COLORS[4]), survey_line(survey_oh, SAMPLE_COLORS[5])],
    [(rich_rows(b_ann_x, b_ann_y, b_ann_t, [TXT] * 7, [43] * 7), False),
     (rich_rows(b_lab_x, b_lab_y, b_lab_t, B_LABEL_COLORS, B_LABEL_SIZES, bold=True), True)],
)

# ---- (c)
pc = build_panel(
    "(c)", 1250, [810, 775], [27, 1290], [810, 800, 790, 780], [800, 790, 780], [805, 795, 785],
    "Binding energy (eV)",
    [(STY["bg"], [(co95_bg_be, co95_bg_i), (co75_bg_be, co75_bg_i), (co55_bg_be, co55_bg_i), (cooh_bg_be, cooh_bg_i)]),
     (STY["blue"], [(co95_m_be, co95_m_i), (co75_m_be, co75_m_i)]),
     (STY["orange"], [(co95_sat1_be, co95_sat1_i), (co95_sat2_be, co95_sat2_i), (co75_sat1_be, co75_sat1_i),
                      (co75_sat2_be, co75_sat2_i), (co55_sat1_be, co55_sat1_i), (co55_sat2_be, co55_sat2_i),
                      (cooh_sat1_be, cooh_sat1_i), (cooh_sat2_be, cooh_sat2_i)]),
     (STY["teal"], [(co95_p12_be, co95_p12_i), (co95_p32_be, co95_p32_i), (co75_p12_be, co75_p12_i),
                    (co75_p32_be, co75_p32_i), (co55_p12_be, co55_p12_i), (co55_p32_be, co55_p32_i),
                    (cooh_p12_be, cooh_p12_i), (cooh_p32_be, cooh_p32_i)])]
    + bead_layers([(co95_dat_be, co95_dat_i), (co75_dat_be, co75_dat_i), (co55_dat_be, co55_dat_i), (cooh_dat_be, cooh_dat_i)])
    + [(STY["env"], [(co95_env_be, co95_env_i), (co75_env_be, co75_env_i), (co55_env_be, co55_env_i), (cooh_env_be, cooh_env_i)])],
    [(rich_rows(c_lab_x, c_lab_y, c_lab_t, [TXT] * len(c_lab_t), [39] * len(c_lab_t)), False)],
)

# ---- (d)
ni_env = [(ni95_env_be, ni95_env_i), (ni75_env_be, ni75_env_i), (ni55_env_be, ni55_env_i), (nioh_env_be, nioh_env_i)]
pd_ = build_panel(
    "(d)", 1272, [885, 850], [24, 1292], [885, 880, 875, 870, 865, 860, 855, 850],
    [885, 880, 875, 870, 865, 860, 855, 850], [882.5, 877.5, 872.5, 867.5, 862.5, 857.5, 852.5],
    "Binding energy (eV)",
    [(STY["bg"], [(ni95_bg_be, ni95_bg_i), (ni75_bg_be, ni75_bg_i), (ni55_bg_be, ni55_bg_i), (nioh_bg_be, nioh_bg_i)]),
     (STY["blue"], [(ni95_m_be, ni95_m_i)]),
     (STY["orange"], [(ni95_sat1_be, ni95_sat1_i), (ni95_sat2_be, ni95_sat2_i), (ni75_sat1_be, ni75_sat1_i),
                      (ni75_sat2_be, ni75_sat2_i), (ni55_sat1_be, ni55_sat1_i), (ni55_sat2_be, ni55_sat2_i),
                      (nioh_sat1_be, nioh_sat1_i), (nioh_sat2_be, nioh_sat2_i)]),
     (STY["teal"], [(ni95_p12_be, ni95_p12_i), (ni95_p32_be, ni95_p32_i), (ni75_p12_be, ni75_p12_i),
                    (ni75_p32_be, ni75_p32_i), (ni55_p12_be, ni55_p12_i), (ni55_p32_be, ni55_p32_i),
                    (nioh_p12_be, nioh_p12_i), (nioh_p32_be, nioh_p32_i)])]
    + bead_layers(ni_env)
    + [(STY["env"], ni_env)],
    [(rich_rows(d_lab_x, d_lab_y, d_lab_t, [TXT] * len(d_lab_t), [43] * len(d_lab_t)), False)],
)

# ---- (e)
fe_env = [(fe95_env_be, fe95_env_i), (fe75_env_be, fe75_env_i), (fe55_env_be, fe55_env_i), (feoh_env_be, feoh_env_i)]
pe = build_panel(
    "(e)", 1261, [738.3, 705.2], [20, 1290], [730, 720, 710], [730, 720, 710], [735, 725, 715],
    "Binding energy (eV)",
    [(STY["bg"], [(fe_bg_be, fe95_bg_i), (fe_bg_be, fe75_bg_i), (fe_bg_be, fe55_bg_i), (fe_bg_be, feoh_bg_i)]),
     (STY["orange"], [(fe95_sat_be, fe95_sat_i), (fe75_sat_be, fe75_sat_i), (fe55_sat_be, fe55_sat_i), (feoh_sat_be, feoh_sat_i)]),
     (STY["teal"], [(fe95_fe3_be, fe95_fe3_i), (fe75_fe3_be, fe75_fe3_i), (fe55_fe3_be, fe55_fe3_i), (feoh_fe3_be, feoh_fe3_i)]),
     (STY["blue"], [(fe95_fe2_be, fe95_fe2_i), (fe75_fe2_be, fe75_fe2_i), (fe55_fe2_be, fe55_fe2_i), (feoh_fe2_be, feoh_fe2_i)])]
    + bead_layers(fe_env)
    + [(STY["env"], fe_env)],
    [(rich_rows(e_lab_x, e_lab_y, e_lab_t, [TXT] * len(e_lab_t), [43] * len(e_lab_t)), False)],
)

# ---- (f)
pf = build_panel(
    "(f)", 1250, [173, 160], [20, 1290], [171, 168, 165, 162], [171, 168, 165, 162], [172.5, 169.5, 166.5, 163.5, 160.5],
    "Binding energy (eV)",
    [(STY["bg"], [(s95_bg_be, s95_bg_i), (s55_bg_be, s55_bg_i)]),
     (STY["envbg"], [(s75_bg_be, s75_bg_i)]),
     (STY["blue"], [(s95_ms_be, s95_ms_i), (s75_ms_be, s75_ms_i)]),
     (STY["orange"], [(s95_sat_be, s95_sat_i), (s75_sat_be, s75_sat_i), (s55_sat_be, s55_sat_i)]),
     (STY["gold"], [(s95_s22_be, s95_s22_i), (s75_s22_be, s75_s22_i), (s55_s22_be, s55_s22_i)]),
     (STY["darkred"], [(s95_p12_be, s95_p12_i), (s75_p12_be, s75_p12_i)]),
     (STY["teal"], [(s95_p32_be, s95_p32_i), (s75_p32_be, s75_p32_i), (s55_p32_be, s55_p32_i)])]
    + bead_layers([(s95_dat_be, s95_dat_i), (s75_dat_be, s75_dat_i), (s55_dat_be, s55_dat_i)])
    + [(STY["env"], [(s95_env_be, s95_env_i), (s75_env_be, s75_env_i), (s55_env_be, s55_env_i)])],
    [(rich_rows(f_lab_x, f_lab_y, f_lab_t, [TXT] * len(f_lab_t), [43] * len(f_lab_t)), False)],
)

chart = (
    alt.concat(pa, pb, pc, pd_, pe, pf, columns=3, spacing={"row": 219, "column": 180},
               bounds="flush", align="each")
    .properties(padding={"left": 4, "top": -46, "right": 0, "bottom": 0}, background="white")
    .configure_view(stroke="black", strokeWidth=3)
    .configure_axis(grid=False, domain=False, ticks=False, tickSize=0, labelFont=FONT, titleFont=FONT,
                    labelFontSize=42, titleFontSize=44, titleFontWeight="normal",
                    labelColor="black", titleColor="black")
    .configure_axisX(labelPadding=16, titlePadding=30)
    .configure_axisY(titlePadding=40)
)

chart.save("out.html", embed_options={"renderer": "svg", "actions": False})
